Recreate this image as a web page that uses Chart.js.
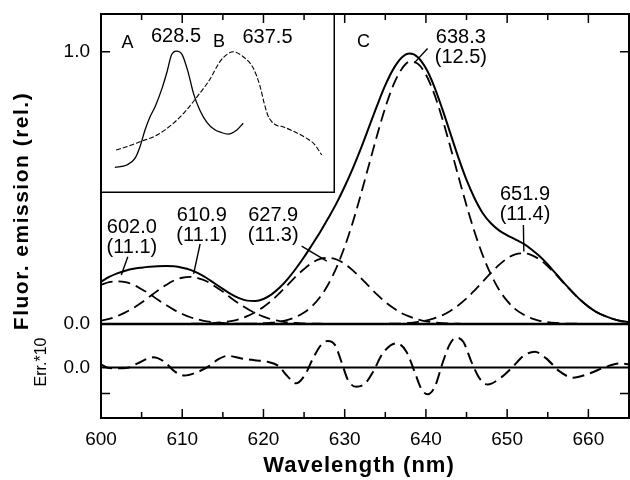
<!DOCTYPE html>
<html>
<head>
<meta charset="utf-8">
<script src="https://cdn.jsdelivr.net/npm/chart.js@4.4.1/dist/chart.umd.min.js"></script>
<style>
  body { margin: 0; background: #fff; }
  #wrap { position: relative; width: 630px; height: 480px; }
  #main { position: absolute; left: 0; top: 0; }
  #inset { position: absolute; left: 101px; top: 14px; }
</style>
</head>
<body>
<div id="wrap">
  <canvas id="main" width="630" height="480"></canvas>
  <canvas id="inset" width="234" height="179"></canvas>
</div>
<script>
// wavelength grid (nm) for the fitted curves
var wavelengths = [600,601,602,603,604,605,606,607,608,609,
  610,611,612,613,614,615,616,617,618,619,
  620,621,622,623,624,625,626,627,628,629,
  630,631,632,633,634,635,636,637,638,639,
  640,641,642,643,644,645,646,647,648,649,
  650,651,652,653,654,655,656,657,658,659,
  660,661,662,663,664,665];

// fitted gaussian components (dashed)
var comp602 = [0.144,0.154,0.157,0.154,0.144,0.128,0.110,0.089,0.070,0.052,
  0.037,0.025,0.017,0.010,0.006,0.004,0.002,0.001,0.001,0,
  0,0,0,0,0,0,0,0,0,0, 0,0,0,0,0,0,0,0,0,0,
  0,0,0,0,0,0,0,0,0,0, 0,0,0,0,0,0,0,0,0,0, 0,0,0,0,0,0];
var comp611 = [0.012,0.019,0.029,0.043,0.059,0.079,0.101,0.123,0.143,0.160,
  0.170,0.173,0.168,0.157,0.139,0.119,0.096,0.075,0.056,0.040,
  0.027,0.017,0.011,0.006,0.004,0.002,0.001,0.001,0,0,
  0,0,0,0,0,0,0,0,0,0, 0,0,0,0,0,0,0,0,0,0,
  0,0,0,0,0,0,0,0,0,0, 0,0,0,0,0,0];
var comp628 = [0,0,0,0,0,0,0,0,0,0,
  0,0.001,0.001,0.002,0.004,0.007,0.011,0.018,0.029,0.044,
  0.063,0.086,0.114,0.144,0.175,0.202,0.225,0.239,0.243,0.237,
  0.221,0.197,0.169,0.138,0.108,0.081,0.059,0.040,0.027,0.017,
  0.010,0.006,0.003,0.002,0.001,0,0,0,0,0,
  0,0,0,0,0,0,0,0,0,0, 0,0,0,0,0,0];
var comp638 = [0,0,0,0,0,0,0,0,0,0,
  0,0,0,0,0,0,0,0,0.001,0.001,
  0.003,0.005,0.009,0.015,0.026,0.042,0.066,0.100,0.147,0.208,
  0.284,0.374,0.477,0.586,0.694,0.795,0.878,0.936,0.963,0.956,
  0.916,0.847,0.756,0.651,0.542,0.435,0.337,0.252,0.182,0.126,
  0.085,0.055,0.035,0.021,0.012,0.007,0.004,0.002,0.001,0.001,
  0,0,0,0,0,0];
var comp652 = [0,0,0,0,0,0,0,0,0,0, 0,0,0,0,0,0,0,0,0,0, 0,0,0,0,0,0,0,0,0,0,
  0,0,0,0,0,0.001,0.001,0.002,0.004,0.008,
  0.013,0.021,0.032,0.048,0.069,0.094,0.124,0.156,0.188,0.217,
  0.241,0.256,0.260,0.253,0.237,0.212,0.182,0.149,0.118,0.089,
  0.064,0.044,0.030,0.019,0.011,0.007];
// total emission (solid)
var emission = [0.155,0.173,0.186,0.196,0.203,0.207,0.210,0.212,0.213,0.212,
  0.207,0.199,0.186,0.169,0.149,0.129,0.110,0.095,0.086,0.085,
  0.092,0.109,0.134,0.166,0.204,0.246,0.292,0.339,0.390,0.444,
  0.505,0.572,0.645,0.724,0.803,0.877,0.937,0.978,0.993,0.980,
  0.939,0.874,0.791,0.701,0.611,0.529,0.461,0.407,0.370,0.344,
  0.326,0.311,0.295,0.274,0.249,0.219,0.185,0.151,0.119,0.089,
  0.064,0.044,0.030,0.019,0.011,0.007];

// residual (Err.*10), lower panel
var errWl = [600.0,600.8,602.1,603.3,604.5,606.4,607.8,609.1,610.3,611.5,
  613.2,614.4,615.6,617.3,618.9,620.5,621.8,623.0,624.0,625.1,
  626.1,627.1,627.9,628.8,629.6,630.4,631.4,632.5,633.5,634.7,
  636.4,637.6,638.6,639.4,640.2,641.1,642.1,642.9,643.7,644.6,
  645.6,646.6,647.6,649.1,650.7,651.9,653.4,654.8,656.5,658.1,
  660.2,662.2,663.9,665.0];
var errVal = [0.12,-0.01,-0.03,-0.01,0.16,0.39,0.22,-0.16,-0.31,-0.22,
  0.03,0.31,0.45,0.35,0.28,0.22,0.07,-0.35,-0.61,-0.29,
  0.35,0.87,1.02,0.87,0.22,-0.48,-0.74,-0.62,-0.16,0.55,
  0.93,0.61,-0.16,-0.80,-1.03,-0.74,0.22,0.87,1.15,0.99,
  0.22,-0.42,-0.65,-0.42,0.03,0.42,0.61,0.35,-0.16,-0.39,
  -0.22,0.03,0.16,0.12];

// peak positions and widths of the components
var peakCenters = [602.0, 610.9, 627.9, 638.3, 651.9];
var peakWidths = [11.1, 11.1, 11.3, 12.5, 11.4];

// inset spectra A (solid) and B (dashed)
var insetAWl = [618.7,620.6,621.9,622.7,623.5,624.3,625.1,626.2,627.0,627.7,
  628.5,629.4,630.4,631.2,632.2,633.3,634.6,635.4,636.7,638.1,639.1];
var insetA = [0.181,0.197,0.244,0.326,0.444,0.537,0.608,0.737,0.854,0.972,
  1.0,0.975,0.843,0.702,0.585,0.50,0.445,0.43,0.415,0.444,0.491];
var insetBWl = [618.9,620.6,622.7,625.4,628.0,630.1,632.2,633.8,635.4,636.5,
  637.5,639.1,640.7,641.8,642.4,643.0,643.6,644.4,645.5,647.1,649.2,650.4,651.6];
var insetB = [0.303,0.326,0.361,0.408,0.491,0.585,0.702,0.80,0.925,0.975,
  0.995,0.96,0.88,0.75,0.64,0.55,0.505,0.478,0.465,0.435,0.385,0.345,0.268];
var insetPeaks = [628.5, 637.5];

// ticks
var xLabels = [600,610,620,630,640,650,660];
var xTickMarks = [605,610,615,620,625,630,635,640,645,650,655,660];
var mainYLabels = [0, 1];
var errYLabels = [0];
var errYTickMarks = [-1];

var FONT = '"Liberation Sans", Arial, Helvetica, sans-serif';
Chart.defaults.font.family = FONT;
Chart.defaults.color = '#000';

function pts(xs, ys) {
  return xs.map(function(x, i) { return {x: x, y: ys[i]}; });
}

var dash = [12, 6];
function dashed(values) {
  return {data: pts(wavelengths, values), borderColor: '#000', borderWidth: 1.8, borderDash: dash, yAxisID: 'y'};
}

function noPad(s) {
  s.paddingTop = 0; s.paddingBottom = 0; s.paddingLeft = 0; s.paddingRight = 0;
}

// label placement for the peak notes (data coordinates)
var peakNotes = [
  {x: 603.8, y: 0.356, from: [603.3, 0.247], to: [602.5, 0.180]},
  {x: 612.4, y: 0.400, from: [612.2, 0.294], to: [611.4, 0.184]},
  {x: 621.2, y: 0.400, from: [624.7, 0.286], to: [627.8, 0.231]},
  {x: 644.3, y: 1.052, from: [640.2, 1.012], to: [638.6, 0.960]},
  {x: 652.2, y: 0.476, from: [652.0, 0.364], to: [652.05, 0.266]}
];

var framePlugin = {
  id: 'frame',
  afterDatasetsDraw: function(chart) {
    var ctx = chart.ctx, a = chart.chartArea;
    var sx = chart.scales.x, sy = chart.scales.y, se = chart.scales.yErr;
    ctx.save();
    ctx.strokeStyle = '#000';
    ctx.lineWidth = 2;
    ctx.strokeRect(a.left, a.top, a.right - a.left, a.bottom - a.top);

    ctx.lineWidth = 1.5;
    ctx.beginPath();
    xTickMarks.forEach(function(v) {
      var px = sx.getPixelForValue(v);
      var len = v % 10 === 0 ? 9 : 6;
      ctx.moveTo(px, a.bottom); ctx.lineTo(px, a.bottom - len);
      ctx.moveTo(px, a.top); ctx.lineTo(px, a.top + len);
    });
    mainYLabels.forEach(function(v) {
      var py = sy.getPixelForValue(v);
      ctx.moveTo(a.left, py); ctx.lineTo(a.left + 9, py);
      ctx.moveTo(a.right, py); ctx.lineTo(a.right - 9, py);
    });
    errYTickMarks.forEach(function(v) {
      var py = se.getPixelForValue(v);
      ctx.moveTo(a.left, py); ctx.lineTo(a.left + 9, py);
      ctx.moveTo(a.right, py); ctx.lineTo(a.right - 9, py);
    });
    ctx.stroke();

    // peak notes
    ctx.fillStyle = '#000';
    ctx.textAlign = 'center';
    ctx.textBaseline = 'middle';
    ctx.font = '20px ' + FONT;
    ctx.lineWidth = 1.4;
    peakNotes.forEach(function(n, i) {
      var px = sx.getPixelForValue(n.x), py = sy.getPixelForValue(n.y);
      ctx.fillText(peakCenters[i].toFixed(1), px, py);
      ctx.fillText('(' + peakWidths[i].toFixed(1) + ')', px, py + 20);
      ctx.beginPath();
      ctx.moveTo(sx.getPixelForValue(n.from[0]), sy.getPixelForValue(n.from[1]));
      ctx.lineTo(sx.getPixelForValue(n.to[0]), sy.getPixelForValue(n.to[1]));
      ctx.stroke();
    });

    ctx.font = '18px ' + FONT;
    ctx.fillText('C', sx.getPixelForValue(632.3), sy.getPixelForValue(1.036));

    // error panel label (width-0 axis keeps its tick off-canvas)
    ctx.font = '19px ' + FONT;
    ctx.textAlign = 'right';
    errYLabels.forEach(function(v) {
      ctx.fillText(v.toFixed(1), a.left - 11, se.getPixelForValue(v));
    });
    ctx.textAlign = 'center';

    // axis titles
    ctx.font = 'bold 22px ' + FONT;
    ctx.letterSpacing = '1px';
    ctx.fillText('Wavelength (nm)', (a.left + a.right) / 2 - 6, 466);
    ctx.font = 'bold 21px ' + FONT;
    ctx.letterSpacing = '1.5px';
    ctx.save();
    ctx.translate(22, 211);
    ctx.rotate(-Math.PI / 2);
    ctx.fillText('Fluor. emission (rel.)', 0, 0);
    ctx.restore();
    ctx.letterSpacing = '0px';
    ctx.font = '16px ' + FONT;
    ctx.save();
    ctx.translate(42, 362);
    ctx.rotate(-Math.PI / 2);
    ctx.fillText('Err.*10', 0, 0);
    ctx.restore();
    ctx.restore();
  }
};

new Chart(document.getElementById('main'), {
  type: 'line',
  data: {
    datasets: [
      {data: pts(wavelengths, emission), borderColor: '#000', borderWidth: 2, yAxisID: 'y'},
      dashed(comp602), dashed(comp611), dashed(comp628), dashed(comp638), dashed(comp652),
      {data: pts([600, 665], [0, 0]), borderColor: '#000', borderWidth: 2.5, yAxisID: 'y'},
      {data: pts([600, 665], [0, 0]), borderColor: '#000', borderWidth: 2, yAxisID: 'yErr'},
      {data: pts(errWl, errVal), borderColor: '#000', borderWidth: 2, borderDash: dash, yAxisID: 'yErr'}
    ]
  },
  options: {
    responsive: false,
    animation: false,
    devicePixelRatio: 1,
    layout: {padding: {top: 14, right: 1, left: 0, bottom: 0}},
    plugins: {legend: {display: false}, tooltip: {enabled: false}},
    elements: {
      point: {radius: 0},
      line: {fill: false, cubicInterpolationMode: 'monotone'}
    },
    scales: {
      x: {
        type: 'linear', min: 600, max: 665,
        grid: {display: false, drawTicks: false}, border: {display: false},
        ticks: {font: {size: 19}, padding: 10, maxRotation: 0, autoSkip: false},
        afterBuildTicks: function(s) { s.ticks = xLabels.map(function(v) { return {value: v}; }); },
        afterFit: function(s) { s.height = 62; noPad(s); }
      },
      y: {
        type: 'linear', position: 'left', weight: 1, min: -0.345, max: 1.1385,
        grid: {display: false, drawTicks: false}, border: {display: false},
        ticks: {font: {size: 19}, padding: 11, callback: function(v) { return v.toFixed(1); }},
        afterBuildTicks: function(s) { s.ticks = mainYLabels.map(function(v) { return {value: v}; }); },
        afterFit: function(s) { s.width = 101; noPad(s); }
      },
      yErr: {
        type: 'linear', position: 'left', display: false, min: -1.942, max: 13.596
      }
    }
  },
  plugins: [framePlugin]
});

var insetPlugin = {
  id: 'insetBox',
  afterDatasetsDraw: function(chart) {
    var ctx = chart.ctx, sx = chart.scales.x, sy = chart.scales.y;
    var w = chart.width, h = chart.height;
    ctx.save();
    ctx.strokeStyle = '#000';
    ctx.lineWidth = 1.5;
    ctx.beginPath();
    ctx.moveTo(w - 0.75, 0); ctx.lineTo(w - 0.75, h - 0.75); ctx.lineTo(0, h - 0.75);
    ctx.stroke();
    ctx.fillStyle = '#000';
    ctx.textAlign = 'center';
    ctx.textBaseline = 'middle';
    ctx.font = '18px ' + FONT;
    ctx.fillText('A', sx.getPixelForValue(620.7), sy.getPixelForValue(1.056));
    ctx.fillText('B', sx.getPixelForValue(635.26), sy.getPixelForValue(1.063));
    ctx.font = '20px ' + FONT;
    ctx.fillText(insetPeaks[0].toFixed(1), sx.getPixelForValue(628.42), sy.getPixelForValue(1.106));
    ctx.fillText(insetPeaks[1].toFixed(1), sx.getPixelForValue(642.97), sy.getPixelForValue(1.099));
    ctx.restore();
  }
};

new Chart(document.getElementById('inset'), {
  type: 'line',
  data: {
    datasets: [
      {data: pts(insetAWl, insetA), borderColor: '#000', borderWidth: 1.3},
      {data: pts(insetBWl, insetB), borderColor: '#000', borderWidth: 1.1, borderDash: [5, 2]}
    ]
  },
  options: {
    responsive: false,
    animation: false,
    devicePixelRatio: 1,
    layout: {padding: 0},
    plugins: {legend: {display: false}, tooltip: {enabled: false}},
    elements: {
      point: {radius: 0},
      line: {fill: false, cubicInterpolationMode: 'monotone'}
    },
    scales: {
      x: {type: 'linear', display: false, min: 616.5, max: 653.7},
      y: {type: 'linear', display: false, min: 0, max: 1.261}
    }
  },
  plugins: [insetPlugin]
});
</script>
</body>
</html>
